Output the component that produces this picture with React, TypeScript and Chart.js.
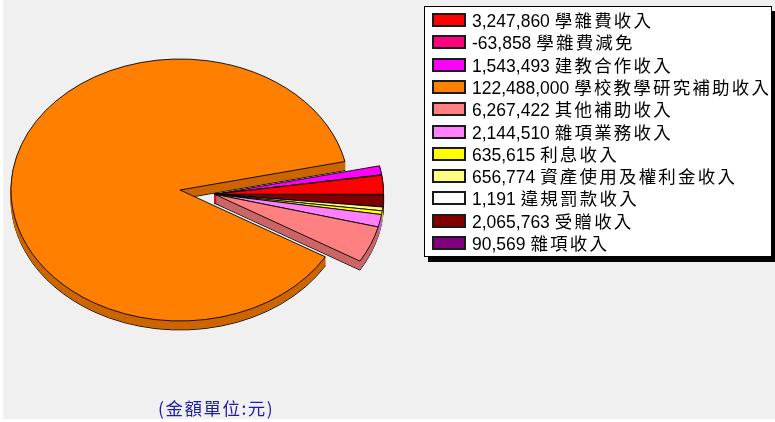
import React, { useEffect, useRef } from 'react';
import { Chart, registerables } from 'chart.js';

Chart.register(...registerables);

// ---- data (legend order) ----
const categories = [
  '學雜費收入',
  '學雜費減免',
  '建教合作收入',
  '學校教學研究補助收入',
  '其他補助收入',
  '雜項業務收入',
  '利息收入',
  '資產使用及權利金收入',
  '違規罰款收入',
  '受贈收入',
  '雜項收入',
];
const amounts = [3247860, -63858, 1543493, 122488000, 6267422, 2144510, 635615, 656774, 1191, 2065763, 90569];
const colors = ['#ff0000', '#ff0080', '#ff00ff', '#ff8000', '#ff8080', '#ff80ff', '#ffff00', '#ffff80', '#ffffff', '#800000', '#800080'];
const unitLabel = '(金額單位:元)';

const fmt = (v: number) => v.toLocaleString('en-US');

function shade(hex: string, f = 0.8) {
  const n = parseInt(hex.slice(1), 16);
  const r = Math.round(((n >> 16) & 255) * f);
  const g = Math.round(((n >> 8) & 255) * f);
  const b = Math.round((n & 255) * f);
  return `rgb(${r},${g},${b})`;
}

const FONT = '"Liberation Sans", "Noto Sans CJK TC", sans-serif';
const CJK_FONT = '"Noto Sans CJK TC", "Liberation Sans", sans-serif';

export default function App() {
  const ref = useRef<HTMLCanvasElement>(null);

  useEffect(() => {
    const canvas = ref.current;
    if (!canvas) return;
    const bigIndex = amounts.indexOf(Math.max(...amounts));
    // original pie runs counter-clockwise; Chart.js runs clockwise -> reverse
    const order = amounts.map((_, i) => i).reverse();
    const data = order.map((i) => amounts[i]);
    const bg = order.map((i) => colors[i]);
    const labels = order.map((i) => categories[i]);
    const exploded = order.map((i) => i !== bigIndex);

    const TILT = 131 / 169;
    const DEPTH = 9;
    const EXPLODE = 35;

    const pie3d = {
      id: 'pie3d',
      beforeDatasetsDraw(chart: any) {
        const meta = chart.getDatasetMeta(0);
        const arcs = meta.data as any[];
        const ctx = chart.ctx as CanvasRenderingContext2D;
        const big = arcs[order.indexOf(bigIndex)];
        const cx = big.x;
        const cy = big.y;
        const mid = (big.endAngle + big.startAngle + 2 * Math.PI) / 2;
        const ex = Math.cos(mid) * EXPLODE;
        const ey = Math.sin(mid) * EXPLODE;
        const paint = (arc: any, idx: number, dy: number, fill: string, stroke: string) => {
          ctx.save();
          ctx.translate(0, dy);
          ctx.translate(cx, cy);
          ctx.scale(1, TILT);
          ctx.translate(-cx, -cy);
          if (exploded[idx]) ctx.translate(ex, ey);
          const fake = Object.create(arc);
          fake.options = { ...arc.options, backgroundColor: fill, borderColor: stroke, offset: 0 };
          fake.draw(ctx);
          ctx.restore();
        };
        for (let d = DEPTH; d >= 1; d--) {
          arcs.forEach((arc, idx) => {
            const side = shade(bg[idx]);
            paint(arc, idx, d, side, d === DEPTH ? '#000' : side);
          });
        }
        arcs.forEach((arc, idx) => paint(arc, idx, 0, bg[idx], '#000'));
        return false;
      },
    };

    const chart = new Chart(canvas, {
      type: 'pie',
      data: {
        labels,
        datasets: [
          {
            data,
            backgroundColor: bg,
            borderColor: '#000',
            borderWidth: 1,
            radius: 169,
            rotation: 90,
          } as any,
        ],
      },
      options: {
        responsive: false,
        animation: false,
        devicePixelRatio: 1,
        events: [],
        layout: { padding: { left: 0, top: 0, right: 415, bottom: 42 } },
        plugins: {
          legend: { display: false },
          tooltip: { enabled: false },
          title: { display: false },
        },
      } as any,
      plugins: [pie3d as any],
    });
    return () => chart.destroy();
  }, []);

  return (
    <div style={{ position: 'fixed', left: 0, top: 0, width: 775, height: 422, background: '#fff', overflow: 'hidden' }}>
      <div style={{ position: 'absolute', left: 3, top: 0, width: 772, height: 419, background: '#f0f0f0' }} />
      <canvas ref={ref} width={775} height={422} style={{ position: 'absolute', left: 0, top: 0, width: 775, height: 422 }} />
      <div
        style={{
          position: 'absolute',
          left: 424,
          top: 6,
          width: 348,
          height: 251,
          boxSizing: 'border-box',
          background: '#fff',
          border: '1px solid #000',
          boxShadow: '4px 5px 0 #000',
        }}
      />
      {categories.map((c, i) => (
        <React.Fragment key={c}>
          <div
            style={{
              position: 'absolute',
              left: 432,
              top: 13 + 22.3 * i,
              width: 34,
              height: 14,
              boxSizing: 'border-box',
              border: '2px solid #1a1a1a',
              background: colors[i],
            }}
          />
          <div
            style={{
              position: 'absolute',
              left: 472,
              top: 9 + 22.3 * i,
              height: 22,
              lineHeight: '22px',
              fontFamily: FONT,
              fontSize: 17.5,
              color: '#000',
              whiteSpace: 'nowrap',
            }}
          >
            {fmt(amounts[i])}{' '}
            <span style={{ fontFamily: CJK_FONT, fontSize: 17.5, letterSpacing: 2.2 }}>{c}</span>
          </div>
        </React.Fragment>
      ))}
      <div
        style={{
          position: 'absolute',
          left: 158,
          top: 398,
          height: 20,
          lineHeight: '20px',
          fontFamily: CJK_FONT,
          fontSize: 17.5,
          color: '#1c1ca8',
          whiteSpace: 'nowrap',
          letterSpacing: 1.5,
        }}
      >
        {unitLabel}
      </div>
    </div>
  );
}
